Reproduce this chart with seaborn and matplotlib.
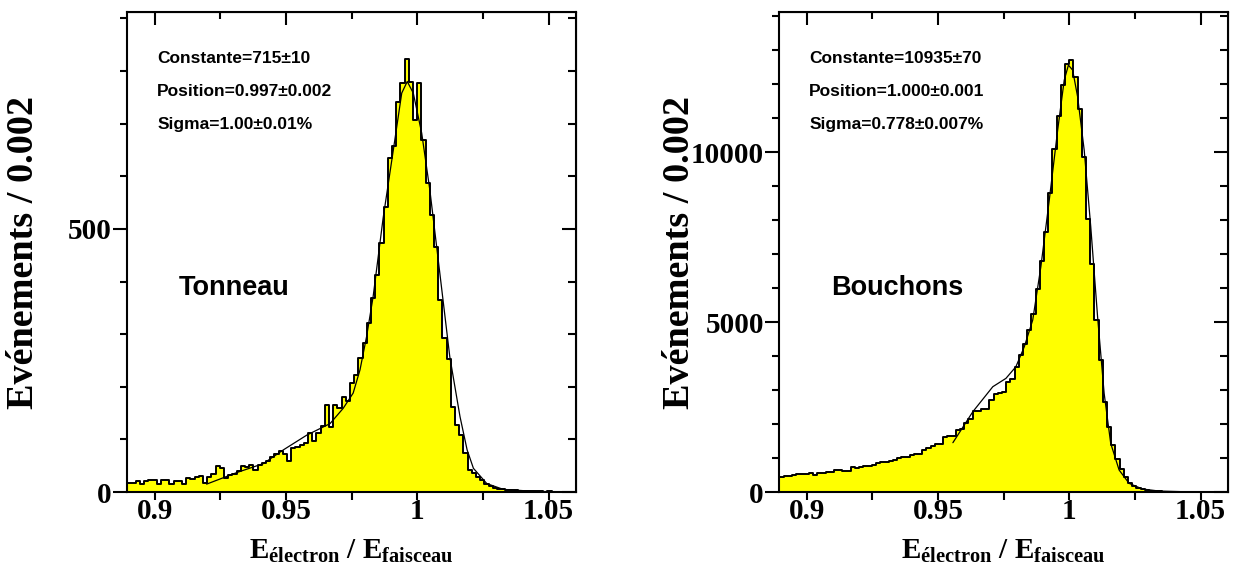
import numpy as np
import pandas as pd
import matplotlib
matplotlib.use("Agg")
import matplotlib.pyplot as plt
from matplotlib.ticker import FixedLocator, MultipleLocator
import seaborn as sns

sns.set_style("ticks")
plt.rcParams["font.family"] = ["Liberation Serif", "DejaVu Serif"]
plt.rcParams["font.weight"] = "bold"
plt.rcParams["mathtext.fontset"] = "custom"
plt.rcParams["mathtext.rm"] = "Liberation Serif:bold"
plt.rcParams["mathtext.it"] = "Liberation Serif:bold"
plt.rcParams["mathtext.bf"] = "Liberation Serif:bold"
for key in ["text.color", "axes.labelcolor", "xtick.color", "ytick.color", "axes.edgecolor"]:
    plt.rcParams[key] = "black"

# binning of both histograms
bin_start = 0.8896
bin_width = 0.0016

# Tonneau (barrel) histogram, counts per bin
tonneau_counts = [
    18, 18, 21, 16, 20, 23, 23, 15, 23, 22,
    16, 21, 20, 15, 26, 24, 29, 30, 18, 29,
    35, 49, 45, 26, 32, 35, 39, 49, 47, 51,
    42, 51, 56, 58, 67, 73, 77, 72, 58, 83,
    86, 90, 93, 112, 96, 112, 125, 165, 124, 165,
    159, 181, 172, 207, 222, 254, 284, 321, 368, 413,
    473, 542, 634, 657, 742, 777, 823, 780, 707, 778,
    669, 588, 527, 466, 365, 292, 252, 162, 127, 108,
    74, 42, 37, 29, 23, 15, 11, 8, 6, 5,
    4, 3, 3, 2, 2, 1, 1, 1, 1, 0,
    1, 0, 0, 0, 0, 0, 0,
]
tonneau_fit_x = [0.9198, 0.9313, 0.9414, 0.9490, 0.9579, 0.9668, 0.9718, 0.9756,
                 0.9782, 0.9807, 0.9832, 0.9870, 0.9909, 0.9941, 0.9962, 0.9985,
                 1.0017, 1.0048, 1.0086, 1.0124, 1.0163, 1.0190, 1.0214, 1.0265,
                 1.0328, 1.0455, 1.0601]
tonneau_fit_y = [15, 37, 54, 80, 108, 130, 159, 188,
                 232, 295, 371, 520, 650, 758, 780, 758,
                 682, 574, 416, 257, 143, 80, 45, 16,
                 5, 1, 0.5]

# Bouchons (endcaps) histogram, counts per bin
bouchons_counts = [
    451, 480, 485, 490, 529, 529, 535, 549, 500, 569,
    569, 575, 598, 647, 647, 627, 627, 745, 716, 740,
    765, 780, 794, 843, 870, 892, 922, 940, 990, 1039,
    1039, 1080, 1118, 1118, 1235, 1284, 1350, 1412, 1420, 1608,
    1647, 1647, 1824, 1843, 2020, 2137, 2392, 2392, 2431, 2431,
    2720, 2870, 2900, 2950, 3235, 3333, 3676, 4020, 4343, 4774,
    5245, 5980, 6784, 7647, 8794, 10098, 11049, 11961, 12578, 12696,
    12206, 11275, 9853, 8039, 6716, 5049, 3873, 2647, 1912, 1373,
    980, 686, 450, 280, 180, 120, 85, 60, 40, 30,
    22, 15, 10, 8, 6, 4, 3, 2, 2, 1,
    1, 1, 1, 0, 0, 0, 0,
]
bouchons_fit_x = [0.9557, 0.9633, 0.9709, 0.9759, 0.9797, 0.9829, 0.9861, 0.9892,
                  0.9924, 0.9956, 0.9981, 0.9997, 1.0013, 1.0032, 1.0057, 1.0082,
                  1.0108, 1.0133, 1.0158, 1.0190, 1.0228, 1.0279, 1.0342, 1.0431,
                  1.0597]
bouchons_fit_y = [1451, 2363, 3098, 3343, 3686, 4275, 5059, 6627,
                  8588, 10647, 12118, 12559, 12412, 11627, 10059, 7804,
                  5157, 2902, 1431, 647, 255, 88, 29, 10,
                  0]

x_major = [0.9, 0.95, 1.0, 1.05]
x_major_labels = ["0.9", "0.95", "1", "1.05"]
x_minor = [0.925, 0.975, 1.025]

panels = [
    dict(counts=tonneau_counts, fit_x=tonneau_fit_x, fit_y=tonneau_fit_y,
         name="Tonneau", name_x=0.238, ymax=912, ymajor=500, yminor=100,
         stats=["Constante=715\u00b110", "Position=0.997\u00b10.002", "Sigma=1.00\u00b10.01%"],
         left=0.1028, ylab_x=-0.191),
    dict(counts=bouchons_counts, fit_x=bouchons_fit_x, fit_y=bouchons_fit_y,
         name="Bouchons", name_x=0.263, ymax=14120, ymajor=5000, yminor=1000,
         stats=["Constante=10935\u00b170", "Position=1.000\u00b10.001", "Sigma=0.778\u00b10.007%"],
         left=0.6303, ylab_x=-0.182),
]

fig = plt.figure(figsize=(12.36, 5.76), dpi=100)

for p in panels:
    ax = fig.add_axes([p["left"], 0.1458, 0.3633, 0.8333])
    n = len(p["counts"])
    edges = [bin_start + bin_width * k for k in range(n + 1)]
    df = pd.DataFrame({"x": [e + bin_width / 2 for e in edges[:-1]],
                       "w": p["counts"]})

    sns.histplot(data=df, x="x", weights="w", bins=edges, element="step",
                 fill=True, color="#ffff00", alpha=1, edgecolor="black",
                 linewidth=1.4, ax=ax)
    sns.lineplot(x=p["fit_x"], y=p["fit_y"], ax=ax, color="black",
                 linewidth=0.9, sort=False, estimator=None)

    ax.set_xlim(0.8895, 1.0605)
    ax.set_ylim(0, p["ymax"])

    ax.xaxis.set_major_locator(FixedLocator(x_major))
    ax.set_xticklabels(x_major_labels)
    ax.xaxis.set_minor_locator(FixedLocator(x_minor))
    ax.yaxis.set_major_locator(MultipleLocator(p["ymajor"]))
    ax.yaxis.set_minor_locator(MultipleLocator(p["yminor"]))

    ax.tick_params(axis="x", which="both", direction="out", length=6, width=1.5,
                   labelsize=21, pad=-2)
    ax.tick_params(axis="y", which="major", direction="out", length=10, width=1.5,
                   labelsize=21, pad=1)
    ax.tick_params(axis="y", which="minor", direction="out", length=5, width=1.5)
    for s in ax.spines.values():
        s.set_linewidth(1.5)
        s.set_visible(True)

    top = ax.secondary_xaxis("top")
    top.set_xticks(x_major)
    top.set_xticks(x_minor, minor=True)
    top.tick_params(which="major", direction="in", length=9.5, width=1.5, labeltop=False)
    top.tick_params(which="minor", direction="in", length=5, width=1.5)
    top.xaxis.set_ticklabels([])

    right = ax.secondary_yaxis("right")
    right.yaxis.set_major_locator(MultipleLocator(p["ymajor"]))
    right.yaxis.set_minor_locator(MultipleLocator(p["yminor"]))
    right.tick_params(which="major", direction="in", length=10, width=1.5, labelright=False)
    right.tick_params(which="minor", direction="in", length=5.5, width=1.5)
    right.yaxis.set_ticklabels([])

    ax.set_xlabel("E$_{\\mathrm{\u00e9lectron}}$ / E$_{\\mathrm{faisceau}}$",
                  fontsize=21, fontweight="bold")
    ax.xaxis.set_label_coords(0.5, -0.095)
    ax.set_ylabel("Ev\u00e9nements / 0.002", fontsize=27.5, fontweight="bold")
    ax.yaxis.set_label_coords(p["ylab_x"], 0.5)

    for i, s in enumerate(p["stats"]):
        ax.text(0.067, 0.904 - 0.0695 * i, s, transform=ax.transAxes,
                ha="left", va="center", fontsize=12.5, fontweight="bold",
                family=["Liberation Sans", "DejaVu Sans"])
    ax.text(p["name_x"], 0.425, p["name"], transform=ax.transAxes,
            ha="center", va="center", fontsize=19.5, fontweight="bold",
            family=["Liberation Sans", "DejaVu Sans"])

fig.savefig("out.png", dpi=100)
